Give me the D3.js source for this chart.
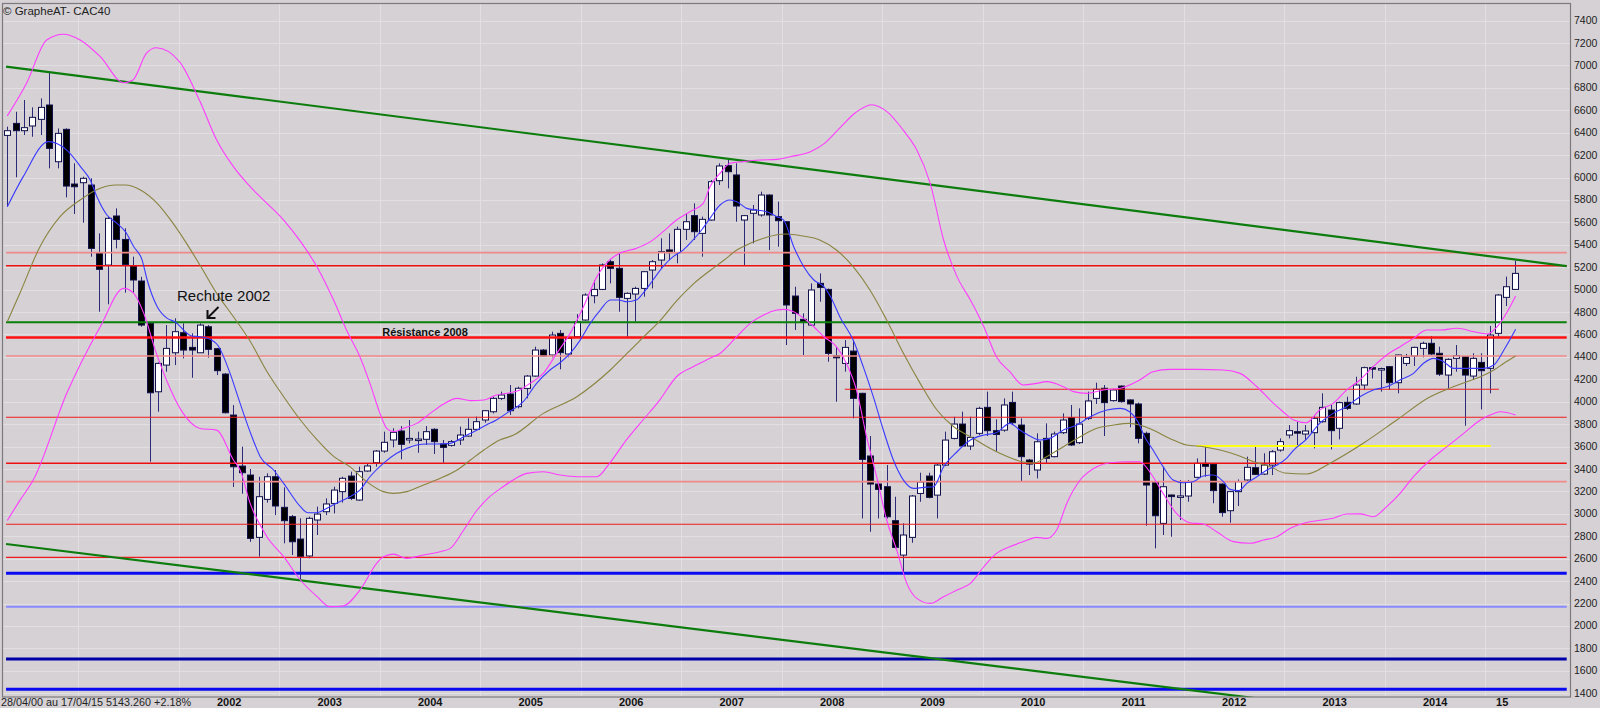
<!DOCTYPE html>
<html><head><meta charset="utf-8">
<script src="https://cdn.jsdelivr.net/npm/d3@7"></script>
<style>
body{margin:0;background:#d5d1d5;}
svg{display:block;font-family:"Liberation Sans",Arial,sans-serif;}
</style>
</head><body>
<svg id="chart" width="1600" height="708"></svg>
<script>
// ---------- DATA (monthly CAC40, Apr 2000 .. Apr 2015) ----------
const startMonth = "2000-04";
const opens = [6376,6483,6418,6460,6519,6647,6141,6430,5942,5954,5933,5330,5219,5657,5448,5211,5077,4699,4089,4327,4437,4616,4485,4437,4669,4473,4247,3881,3426,3346,2790,3129,3331,3058,2975,2775,2624,2945,3019,3093,3198,3337,3123,3382,3456,3560,3659,3739,3659,3659,3665,3754,3623,3611,3659,3694,3754,3837,3911,4030,4069,3956,4119,4229,4461,4417,4610,4426,4580,4729,4946,5002,5249,5190,4922,4961,5011,5175,5264,5354,5330,5538,5660,5502,5621,5972,6106,6023,5621,5681,5666,5844,5651,5606,4943,4735,4684,5056,5002,4410,4342,4452,4075,3516,3266,3242,2939,2632,2790,3182,3337,3167,3435,3673,3801,3605,3718,3950,3742,3747,3994,3792,3480,3391,3673,3510,3724,3858,3635,3852,4030,4120,4010,4140,4016,3980,3718,3281,2915,3168,3159,3159,3326,3450,3444,3266,3028,3198,3302,3412,3355,3435,3569,3703,3733,3712,3724,3822,3926,3763,3995,3980,4149,4304,4295,4313,4170,4342,4408,4476,4521,4432,4238,4387,4402,4229,4351,4298,4610,4931,5002];
const highs = [6454,6587,6692,6626,6706,6944,6438,6439,6127,6008,5993,5502,5650,5725,5547,5294,5115,4710,4350,4684,4744,4699,4610,4699,4684,4480,4255,3970,3599,3400,3331,3361,3391,3236,2990,2960,2975,3064,3138,3242,3331,3376,3421,3450,3569,3733,3763,3783,3837,3733,3783,3763,3659,3659,3778,3852,3867,3926,4045,4090,4149,4134,4238,4491,4470,4625,4640,4580,4782,4967,5086,5234,5270,5324,4975,5026,5165,5264,5458,5502,5562,5681,5770,5651,5978,6127,6162,6127,5666,5755,5874,5850,5785,5612,5026,4788,5056,5145,5010,4491,4550,4550,4080,3694,3272,3435,3153,2915,3168,3367,3367,3450,3733,3866,3911,3866,3956,4090,3843,4030,4090,3852,3490,3718,3807,3733,3896,3971,3941,4090,4170,4149,4115,4145,4020,3992,3733,3302,3421,3172,3302,3302,3495,3614,3450,3272,3204,3307,3510,3605,3540,3569,3673,3792,3822,3792,3882,4075,3971,4001,4045,4223,4313,4313,4304,4319,4420,4426,4491,4536,4586,4491,4387,4506,4405,4432,4432,4676,4960,5116,5258];
const lows = [5740,6002,6379,6364,6379,6082,6082,5823,5675,5597,5294,4803,4869,5368,4973,4973,4669,3465,3911,4268,4327,4387,4214,4437,4393,4238,3896,3240,3180,2750,2618,3100,2989,2737,2633,2415,2603,2811,2989,3004,3100,3123,3117,3376,3421,3545,3593,3486,3629,3545,3614,3534,3456,3600,3614,3688,3748,3813,3896,4015,3882,3941,4030,4223,4402,4396,4289,4396,4574,4723,4878,4996,5056,4803,4580,4714,4937,5011,5190,5264,5235,5443,5443,5294,5615,5933,5904,5606,5220,5413,5651,5353,5383,4506,4640,4417,4678,4892,4357,4000,4268,3852,2959,2840,2959,2959,2692,2463,2742,3108,3138,2959,3426,3664,3599,3569,3703,3694,3554,3733,3801,3287,3346,3316,3450,3504,3712,3605,3623,3837,3980,3694,4001,3992,3772,3629,2894,2692,2811,2796,2945,3108,3317,3331,3094,2974,2921,3070,3287,3346,3346,3346,3554,3673,3614,3658,3584,3813,3575,3664,3926,3971,4105,4208,4090,4105,4075,4319,4319,4396,4417,4230,4119,4268,3786,4200,3932,4075,4580,4854,4997];
const closes = [6418,6418,6445,6537,6626,6260,6394,5924,5918,5993,5368,5181,5636,5448,5225,5086,4684,4080,4342,4476,4625,4461,4461,4684,4467,4277,3902,3420,3367,2781,3153,3331,3070,2939,2751,2618,2960,2998,3088,3212,3317,3138,3376,3427,3560,3638,3727,3620,3673,3667,3733,3644,3593,3644,3703,3754,3822,3920,4030,4060,3920,4120,4229,4461,4408,4595,4438,4565,4714,4952,5002,5220,5190,4931,4967,5011,5160,5249,5339,5330,5538,5606,5517,5627,5963,6103,6052,5746,5660,5710,5844,5666,5615,4863,4788,4707,4997,5020,4431,4392,4485,4030,3486,3266,3218,2974,2701,2811,3159,3284,3147,3435,3658,3801,3605,3682,3941,3742,3708,3971,3813,3510,3444,3643,3495,3712,3837,3614,3801,4007,4111,3992,4105,4001,3980,3673,3257,2983,3242,3154,3160,3287,3450,3424,3207,3011,3198,3287,3415,3352,3435,3554,3644,3742,3724,3739,3852,3950,3742,3992,3941,4149,4304,4295,4296,4170,4417,4396,4485,4521,4426,4246,4378,4411,4238,4387,4277,4595,4952,5026,5145];

// indicator curves: [candle index, value]
const maShort = [[0,5740],[1.9,6008],[4.9,6320],[7.1,6245],[8.9,6082],[9.9,5978],[10.7,5829],[11.9,5666],[13.1,5591],[14.1,5517],[15.1,5383],[16.1,5264],[16.7,5086],[17.9,4848],[19.1,4744],[20,4714],[22,4586],[23,4580],[24,4565],[25.2,4497],[26.6,4253],[27.8,3985],[29.2,3690],[30.2,3510],[31.8,3391],[33,3272],[35,3064],[35.9,3010],[36.9,3010],[38.5,3064],[39.7,3108],[40.9,3153],[42.1,3212],[43.3,3331],[44.9,3450],[46.5,3540],[47.7,3584],[48.9,3614],[50.1,3623],[51.3,3623],[52.9,3629],[54.5,3688],[56.1,3748],[57.2,3792],[58.4,3837],[59.6,3896],[61.6,4000],[63.2,4164],[64.8,4283],[66,4348],[67.2,4431],[68.4,4550],[69.6,4699],[70.8,4818],[72,4907],[73,4907],[74,4892],[75.1,4907],[75.9,4967],[77.1,5086],[78.3,5205],[79.5,5294],[80.7,5353],[81.7,5428],[82.9,5532],[83.9,5636],[85.1,5755],[86.3,5800],[87.1,5785],[88.3,5725],[89.5,5710],[90.7,5695],[91.9,5651],[92.7,5621],[93.9,5383],[95.1,5205],[96.3,5086],[97.5,5026],[98.3,4937],[99.4,4759],[101,4550],[102.2,4313],[103.4,4045],[104.6,3748],[105.8,3480],[107,3301],[108.2,3227],[109.4,3236],[110.6,3242],[111.8,3420],[113.4,3554],[115,3658],[116.6,3703],[118.1,3723],[119.7,3807],[120.9,3748],[122.1,3695],[123.3,3659],[124.5,3673],[126.1,3748],[127.7,3792],[129.3,3867],[131.3,3926],[132.9,3941],[134,3911],[135,3822],[135.8,3688],[136.8,3569],[138,3421],[139.2,3302],[140.4,3278],[141.6,3287],[142.8,3337],[144,3346],[145.2,3287],[146,3218],[147,3207],[148,3272],[149.2,3331],[150.4,3391],[151.6,3435],[152.8,3500],[153.6,3569],[155.1,3664],[156.7,3807],[158.3,3896],[159.9,3956],[161.5,4045],[163.1,4105],[164.7,4134],[166.3,4194],[167.9,4253],[169.1,4343],[170.3,4387],[171.5,4357],[172.7,4298],[173.9,4298],[175.1,4298],[176.3,4298],[177.5,4328],[178.7,4461],[180.1,4646]];
const maLong = [[0,4714],[1.5,4967],[3.9,5383],[6.3,5651],[8.7,5800],[11.1,5904],[12.9,5933],[14.1,5933],[15.9,5889],[17.9,5770],[19.8,5591],[21.4,5413],[23,5219],[25,4967],[27,4758],[29,4540],[31,4270],[33,4045],[35,3837],[37,3659],[39,3510],[40.9,3421],[42.9,3287],[44.9,3198],[46.1,3183],[47.7,3198],[49.7,3257],[51.7,3317],[53.7,3391],[55.3,3480],[56.9,3569],[58.8,3659],[60.4,3700],[64,3896],[68,4045],[72,4283],[74,4431],[76,4580],[78,4729],[80,4907],[82,5056],[84,5175],[85.6,5264],[87.1,5353],[88.7,5413],[90.3,5458],[91.9,5490],[93,5496],[95,5478],[97,5443],[99,5354],[101,5205],[103,4997],[105,4729],[107,4432],[109,4164],[111,3926],[113,3777],[115,3688],[117,3599],[119,3524],[121.3,3462],[122.5,3452],[124.1,3510],[126.1,3599],[128.1,3688],[130.1,3763],[132.1,3792],[134,3807],[135.2,3792],[136.8,3748],[138.8,3673],[140.8,3614],[142.8,3599],[144.8,3569],[146.8,3525],[148.8,3465],[150.8,3421],[152.5,3365],[155.1,3355],[157.9,3450],[161.9,3629],[165.9,3837],[169.9,4045],[171.9,4111],[174.3,4179],[175.9,4223],[177.5,4283],[178.7,4343],[180.1,4408]];
const bbUpper = [[0,6550],[2.3,6841],[4.7,7227],[6.7,7278],[8.7,7227],[11.1,7078],[13.9,6846],[15,6870],[16.6,7108],[17.8,7158],[20.6,7030],[23,6680],[25,6335],[27,6097],[29,5918],[31,5770],[33,5620],[35,5430],[37,5200],[39,4900],[40.5,4640],[42.1,4402],[43.3,4164],[44.5,3896],[45.3,3763],[46.1,3733],[47.3,3763],[48.9,3807],[50.5,3896],[52.1,3980],[53.7,4030],[55.3,4010],[56.9,4015],[58.4,4060],[60,4080],[61.2,4105],[62.4,4164],[64,4253],[65.6,4431],[67.2,4610],[68.8,4848],[70.4,5116],[71.9,5264],[73.1,5324],[75.1,5368],[76.8,5428],[78.3,5517],[79.9,5621],[81.5,5695],[83.1,5770],[83.9,5918],[85.1,6037],[86.3,6127],[87.9,6142],[89.9,6156],[91.9,6162],[93.5,6186],[95.9,6231],[97.5,6300],[99.5,6450],[101.3,6580],[103.2,6650],[105,6590],[107,6420],[108.6,6246],[110.2,5948],[111.8,5443],[113.4,5116],[115,4907],[116.6,4669],[118.1,4402],[119.7,4268],[121.3,4149],[122.9,4164],[124.1,4179],[126.1,4134],[127.3,4090],[128.9,4075],[130.9,4105],[132.9,4120],[135.2,4194],[136.8,4268],[138.8,4289],[142,4289],[145.2,4283],[147.2,4253],[149.2,4134],[151.2,3985],[152.5,3900],[153.6,3837],[155.1,3813],[156.7,3926],[158.3,3985],[159.9,4104],[161.5,4194],[163.1,4313],[164.7,4417],[166.3,4491],[167.9,4565],[169.5,4640],[171.1,4640],[173.1,4655],[175.1,4625],[176.7,4604],[177.9,4670],[179.1,4803],[180.1,4943]];
const bbLower = [[0,2940],[1.5,3120],[3.1,3301],[7.1,4075],[11.1,4669],[13.9,5011],[15.1,4967],[16.3,4788],[17.8,4431],[19,4194],[21,3896],[23,3762],[25,3747],[27,3480],[27.8,3391],[29,3093],[31,2796],[33,2618],[35,2410],[37,2261],[38.5,2172],[40.1,2178],[42.1,2320],[44.1,2558],[44.9,2618],[46.1,2641],[47.7,2603],[49.7,2633],[51.7,2662],[52.9,2692],[54.5,2856],[56.1,3034],[57.6,3153],[59.2,3242],[60.8,3320],[62,3361],[64,3376],[66,3346],[68,3331],[70.4,3331],[71.9,3450],[73.9,3658],[75.9,3837],[77.9,4015],[79.9,4223],[81.9,4313],[83.9,4387],[85.1,4431],[87.1,4580],[88.7,4699],[90.3,4774],[91.9,4818],[92.7,4824],[93.9,4803],[95.1,4744],[96.3,4669],[97.5,4580],[99,4491],[100.2,4342],[101.4,4104],[102.6,3688],[103.8,3331],[105,2945],[106.2,2677],[107.4,2380],[108.6,2246],[110.2,2201],[111.8,2261],[113.4,2320],[115,2380],[116.6,2528],[118.1,2647],[119.7,2707],[121.3,2751],[122.9,2790],[124.1,2781],[125.3,2856],[126.5,3093],[128.1,3302],[130.1,3421],[131.7,3456],[134,3465],[135.2,3465],[136.8,3331],[138,3183],[139.6,3004],[141.2,2921],[142.8,2909],[144.4,2841],[146.4,2752],[148.4,2737],[150,2766],[151.6,2796],[153.2,2871],[155,2920],[157,2945],[158.3,2960],[159.9,2998],[161.5,3000],[163.1,2974],[164.7,3064],[166.3,3183],[167.9,3331],[169.9,3480],[171.9,3599],[173.9,3718],[175.9,3837],[177.5,3896],[178.3,3911],[180.1,3881]];

// support / resistance levels: value, kind, from index, to index
const levelValues = [5330,5214,4709,4573,4408,4111,3861,3605,3451,3287,2907,2612,2470,2172,1705,1435];
const levelKinds  = ["lightred","red2","green","redthick","lightred","red","red","yellow","red2","lightred","red","red","blue","lightblue","darkblue","blue"];
const levelFrom   = [-0.15,-0.15,-0.15,-0.15,-0.15,100,-0.15,142,-0.15,-0.15,-0.15,-0.15,-0.15,-0.15,-0.15,-0.15];
const levelTo     = [186.2,186.2,186.2,186.2,186.2,178.1,186.2,177.1,186.2,186.2,186.2,186.2,186.2,186.2,186.2,186.2];
// trend channel lines: [index, value] endpoints
const trendTop = [[-0.15,6990],[186.2,5210]];
const trendBottom = [[-0.15,2731],[186.2,1013]];

const yTickValues = d3.range(1400, 7401, 200);
const yearLabels = ["2002","2003","2004","2005","2006","2007","2008","2009","2010","2011","2012","2013","2014","15"];
const yearNumbers = [2002,2003,2004,2005,2006,2007,2008,2009,2010,2011,2012,2013,2014,2015];
const gridYears = [2001,2002,2003,2004,2005,2006,2007,2008,2009,2010,2011,2012,2013,2014,2015];
const titleText = "\u00A9 GrapheAT- CAC40";
const footerText = "28/04/00 au 17/04/15  5143.260  +2.18%";

// ---------- DRAW ----------
const svg = d3.select("#chart");
const W = 1600, H = 708;
const plot = {left: 2, top: 3.5, right: 1570, bottom: 697};
const n = closes.length;
const x = d3.scaleLinear().domain([0, n - 1]).range([7.3, 1514.8]);
const y = d3.scaleLinear().domain([1400, 7400]).range([693.2, 20.6]);
const monthIndexOfYear = yr => (yr - 2000) * 12 - 3; // index of January of yr

svg.append("rect").attr("width", W).attr("height", H).attr("fill", "#d5d1d5");

svg.append("defs").append("clipPath").attr("id", "clip")
  .append("rect").attr("x", plot.left).attr("y", plot.top)
  .attr("width", plot.right - plot.left).attr("height", plot.bottom - plot.top);

const grid = svg.append("g");
grid.selectAll("line.h").data(yTickValues).join("line")
  .attr("x1", plot.left).attr("x2", plot.right)
  .attr("y1", d => Math.round(y(d)) + 0.5).attr("y2", d => Math.round(y(d)) + 0.5)
  .attr("stroke", "#e2dfe2").attr("stroke-width", 1);
grid.selectAll("line.v").data(gridYears).join("line")
  .attr("y1", plot.top).attr("y2", plot.bottom)
  .attr("x1", d => Math.round(x(monthIndexOfYear(d) - 0.5)) + 0.5)
  .attr("x2", d => Math.round(x(monthIndexOfYear(d) - 0.5)) + 0.5)
  .attr("stroke", "#e2dfe2").attr("stroke-width", 1);

const clipG = svg.append("g").attr("clip-path", "url(#clip)");

// candles
const cG = clipG.append("g");
const idx = d3.range(n);
cG.selectAll("line.wick").data(idx).join("line")
  .attr("x1", i => Math.round(x(i)) + 0.5).attr("x2", i => Math.round(x(i)) + 0.5)
  .attr("y1", i => y(highs[i])).attr("y2", i => y(lows[i]))
  .attr("stroke", "#2a2a78").attr("stroke-width", 1);
cG.selectAll("rect.body").data(idx).join("rect")
  .attr("x", i => Math.round(x(i)) - 2.5)
  .attr("width", 6)
  .attr("y", i => y(Math.max(opens[i], closes[i])))
  .attr("height", i => Math.max(1.5, Math.abs(y(opens[i]) - y(closes[i]))))
  .attr("fill", i => closes[i] >= opens[i] ? "#ffffff" : "#000000")
  .attr("stroke", "#10104a").attr("stroke-width", 1);

// levels
const levelStyle = {
  lightred: {c: "#f08a8a", w: 1.6},
  red: {c: "#ee1c1c", w: 1.1},
  red2: {c: "#ee1010", w: 1.5},
  redthick: {c: "#ff1010", w: 2.6},
  green: {c: "#0a800a", w: 2.2},
  yellow: {c: "#ffff10", w: 2.2},
  blue: {c: "#0a0af0", w: 3},
  lightblue: {c: "#8a8aff", w: 2},
  darkblue: {c: "#0000a8", w: 3}
};
clipG.selectAll("line.level").data(levelValues).join("line")
  .attr("x1", (d, k) => x(levelFrom[k])).attr("x2", (d, k) => x(levelTo[k]))
  .attr("y1", d => y(d)).attr("y2", d => y(d))
  .attr("stroke", (d, k) => levelStyle[levelKinds[k]].c)
  .attr("stroke-width", (d, k) => levelStyle[levelKinds[k]].w);

// trend lines
const straight = d3.line().x(d => x(d[0])).y(d => y(d[1]));
[trendTop, trendBottom].forEach(t => clipG.append("path").attr("d", straight(t))
  .attr("fill", "none").attr("stroke", "#0c7c0c").attr("stroke-width", 2.2));

// indicators
const curve = d3.line().x(d => x(d[0])).y(d => y(d[1])).curve(d3.curveMonotoneX);
clipG.append("path").attr("d", curve(maLong)).attr("fill", "none").attr("stroke", "#8a8440").attr("stroke-width", 1.1);
clipG.append("path").attr("d", curve(bbUpper)).attr("fill", "none").attr("stroke", "#ff3cff").attr("stroke-width", 1.1);
clipG.append("path").attr("d", curve(bbLower)).attr("fill", "none").attr("stroke", "#ff3cff").attr("stroke-width", 1.1);
clipG.append("path").attr("d", curve(maShort)).attr("fill", "none").attr("stroke", "#3a3aff").attr("stroke-width", 1.1);

// frame
svg.append("rect").attr("x", plot.left + 0.5).attr("y", plot.top)
  .attr("width", plot.right - plot.left).attr("height", plot.bottom - plot.top)
  .attr("fill", "none").attr("stroke", "#7c7a7c").attr("stroke-width", 1.2);

// right axis labels
svg.append("g").selectAll("text").data(yTickValues).join("text")
  .attr("x", plot.right + 4).attr("y", d => y(d) + 3.5)
  .attr("font-size", 10.5).attr("fill", "#222").text(d => d);

// year labels
svg.append("g").selectAll("text").data(yearLabels).join("text")
  .attr("x", (d, k) => {
    const s = monthIndexOfYear(yearNumbers[k]);
    const e = Math.min(s + 11, n - 1);
    return x((s + e) / 2);
  })
  .attr("y", 706).attr("text-anchor", "middle")
  .attr("font-size", 11).attr("font-weight", "bold").attr("fill", "#111").text(d => d);

// footer & title
svg.append("text").attr("x", 1).attr("y", 706).attr("font-size", 11)
  .attr("textLength", 190).attr("lengthAdjust", "spacingAndGlyphs")
  .attr("fill", "#222").text(footerText);
svg.append("text").attr("x", 3).attr("y", 15).attr("font-size", 11.5)
  .attr("fill", "#222").text(titleText);

// annotations
svg.append("text").attr("x", 177).attr("y", 300.5).attr("font-size", 15)
  .attr("fill", "#111").text("Rechute 2002");
const arrowG = svg.append("g").attr("stroke", "#111").attr("stroke-width", 2).attr("fill", "none");
arrowG.append("line").attr("x1", 218.5).attr("y1", 307).attr("x2", 208).attr("y2", 317.5);
arrowG.append("path").attr("d", "M207.5,310 L207.5,318 L215.5,318");
svg.append("text").attr("x", 425).attr("y", 336).attr("text-anchor", "middle")
  .attr("font-size", 11).attr("font-weight", "bold").attr("fill", "#111").text("R\u00E9sistance 2008");
</script>
</body></html>
